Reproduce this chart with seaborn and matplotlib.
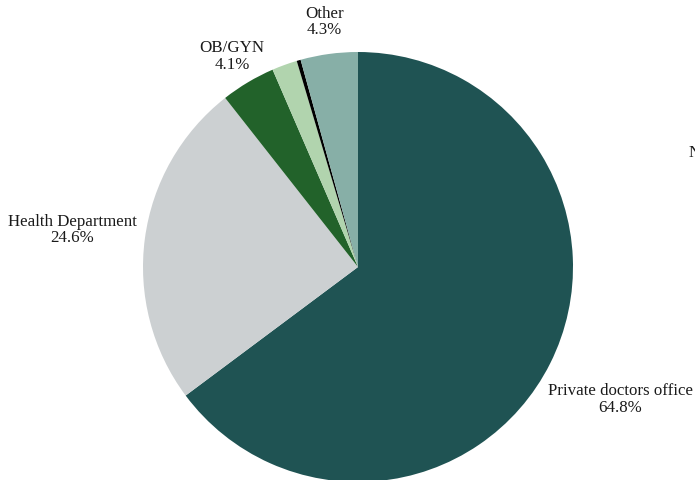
import matplotlib
matplotlib.use("Agg")
import matplotlib.pyplot as plt
import numpy as np
import seaborn as sns

sns.set_style("white")
plt.rcParams['font.family'] = ['Liberation Serif', 'DejaVu Serif']

# slice data, clockwise from 12 o'clock
sources = ["Private doctors office", "Health Department", "OB/GYN", "Clinic", "None", "Other"]
shares = [64.8, 24.6, 4.1, 1.9, 0.3, 4.3]
shown = [True, True, True, False, False, True]
colors = ["#1f5353", "#ccd0d2", "#22622a", "#b1d4ae", "#000000", "#87afa7"]
label_dist = [1.365, 1.34, 1.145, 1.15, 1.15, 1.155]

fig = plt.figure(figsize=(6.95, 4.81), dpi=100)
ax = fig.add_axes([143 / 695, -2 / 481, 430 / 695, 430 / 481])

wedges, _ = ax.pie(shares, colors=colors, startangle=90, counterclock=False,
                   radius=1, wedgeprops=dict(linewidth=0))
ax.set_xlim(-1, 1)
ax.set_ylim(-1, 1)
ax.set_aspect("equal")

for w, name, val, show, d in zip(wedges, sources, shares, shown, label_dist):
    if not show:
        continue
    mid = np.deg2rad((w.theta1 + w.theta2) / 2)
    ax.text(d * np.cos(mid), d * np.sin(mid), f"{name}\n{val:.1f}%",
            ha="center", va="center", fontsize=12.2, color="#1a1a1a",
            linespacing=1.05, clip_on=False)

# label of the thin slice is cut off at the right edge in the original
fig.text(689 / 695, 1 - 153 / 481, "None", ha="left", va="center",
         fontsize=12.2, color="#1a1a1a")

fig.savefig("out.png", dpi=100)
